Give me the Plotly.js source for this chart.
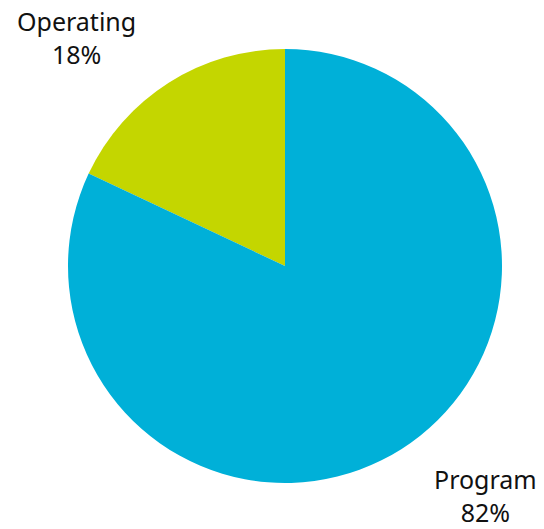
<!DOCTYPE html>
<html>
<head>
<meta charset="utf-8">
<script src="https://cdn.plot.ly/plotly-3.0.1.min.js"></script>
<style>html,body{margin:0;padding:0;background:#fff;}#chart{width:544px;height:529px;}</style>
</head>
<body>
<div id="chart"></div>
<script>
var categories = ["Operating", "Program"];
var values = [18, 82];
var colors = ["#C4D600", "#00B0D8"];

var total = values.reduce(function (a, b) { return a + b; }, 0);

var W = 544, H = 529;
var margin = {l: 68, r: 42, t: 49, b: 46};
var plotW = W - margin.l - margin.r;
var plotH = H - margin.t - margin.b;
function px2x(px) { return (px - margin.l) / plotW; }
function px2y(py) { return (H - margin.b - py) / plotH; }

// label anchor points (pixels) for each category's text block
var labelPx = [[76, 37.5], [485, 495.5]];

var annotations = categories.map(function (c, i) {
  return {
    xref: "paper", yref: "paper",
    x: px2x(labelPx[i][0]), y: px2y(labelPx[i][1]),
    xanchor: "center", yanchor: "middle",
    text: c + "<br>" + Math.round(values[i] / total * 100) + "%",
    showarrow: false,
    align: "center",
    font: {family: "Noto Sans, Open Sans, sans-serif", size: 25, color: "#111"}
  };
});

var trace = {
  type: "pie",
  labels: categories,
  values: values,
  sort: false,
  direction: "clockwise",
  rotation: -values[0] / total * 360,
  marker: {colors: colors, line: {width: 0}},
  textinfo: "none",
  hoverinfo: "none",
  showlegend: false
};

var layout = {
  width: W,
  height: H,
  margin: margin,
  paper_bgcolor: "#fff",
  plot_bgcolor: "#fff",
  showlegend: false,
  annotations: annotations
};

Plotly.newPlot("chart", [trace], layout, {displayModeBar: false, staticPlot: true});
</script>
</body>
</html>
